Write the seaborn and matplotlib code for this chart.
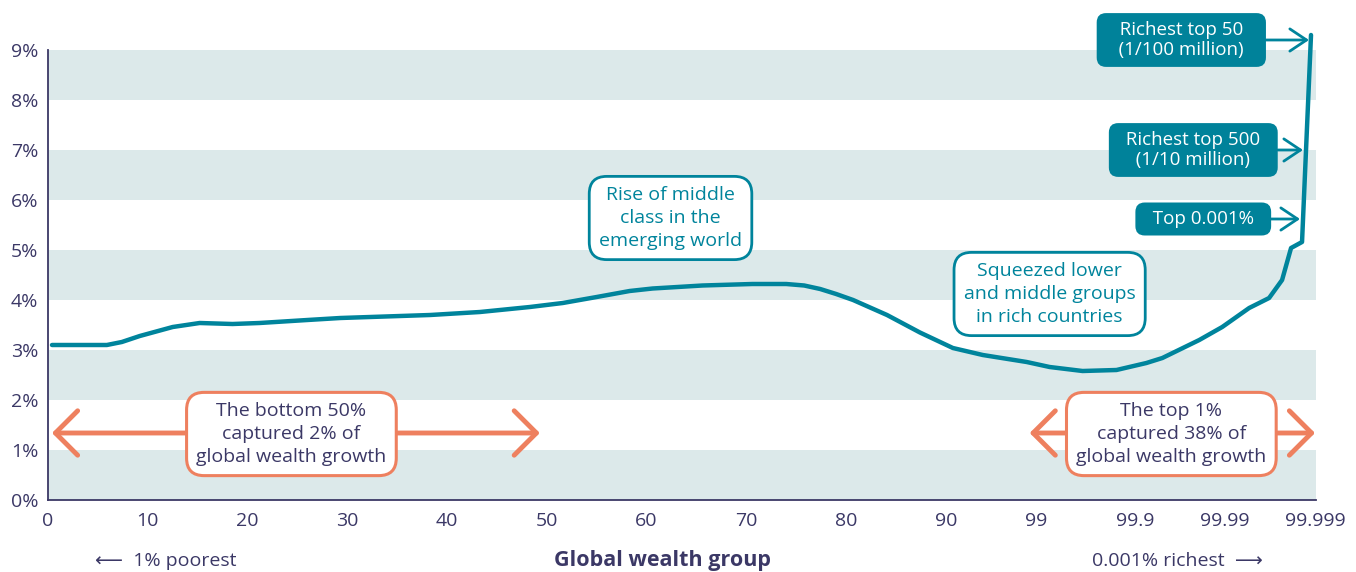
import numpy as np
import matplotlib
matplotlib.use("Agg")
import matplotlib.pyplot as plt
import seaborn as sns

# position along the x axis (0-99 percentiles, then 99.1..99.9, 99.91..99.99, 99.991..99.999)
pos = [0.4, 5.9, 7.4, 9.2, 12.5, 15.2, 18.5, 21.2, 26.0, 29.3, 38.3, 43.3, 48.3, 51.6, 55.0,
       58.3, 60.6, 65.6, 70.6, 74.0, 75.8, 77.4, 79.0, 80.7, 84.1, 87.4, 90.7, 93.7, 98.1,
       100.4, 103.7, 107.1, 110.1, 111.7, 115.4, 117.7, 120.4, 122.4, 123.7, 124.6, 125.7, 126.6]
growth = [3.10, 3.10, 3.16, 3.28, 3.46, 3.54, 3.52, 3.54, 3.60, 3.64, 3.70, 3.76, 3.86, 3.94, 4.06,
          4.18, 4.23, 4.29, 4.32, 4.32, 4.29, 4.22, 4.12, 4.00, 3.70, 3.35, 3.04, 2.90, 2.76,
          2.66, 2.58, 2.60, 2.74, 2.84, 3.20, 3.46, 3.84, 4.04, 4.40, 5.04, 5.16, 9.30]

xtick_pos = [0, 10, 20, 30, 40, 50, 60, 70, 80, 90, 99, 109, 118, 127]
xtick_labels = ["0", "10", "20", "30", "40", "50", "60", "70", "80", "90",
                "99", "99.9", "99.99", "99.999"]
ytick_vals = [0, 1, 2, 3, 4, 5, 6, 7, 8, 9]

teal = "#00849c"
navy = "#3b3866"
orange = "#ee805f"
band = "#dce9ea"

sns.set_theme(style="white")
plt.rcParams["font.family"] = ["Open Sans", "DejaVu Sans"]

fig = plt.figure(figsize=(13.56, 5.72), dpi=100)
ax = fig.add_axes([48 / 1356, 72 / 572, 1268 / 1356, 480 / 572])

for lo in [0, 2, 4, 6, 8]:
    ax.axhspan(lo, lo + 1, color=band, lw=0, zorder=0)

sns.lineplot(x=pos, y=growth, color=teal, linewidth=3.2, sort=False, ax=ax, zorder=3)

ax.set_xlim(0, 127.1)
ax.set_ylim(0, 9.6)
ax.set_xticks(xtick_pos)
ax.set_xticklabels(xtick_labels)
ax.set_yticks(ytick_vals)
ax.set_yticklabels([f"{v}%" for v in ytick_vals])
ax.tick_params(length=0, labelsize=14, labelcolor=navy)
ax.tick_params(axis="y", pad=7)
ax.tick_params(axis="x", pad=9)

for s in ["top", "right"]:
    ax.spines[s].set_visible(False)
ax.spines["left"].set_color(navy)
ax.spines["left"].set_linewidth(1.3)
ax.spines["left"].set_bounds(0, 9)
ax.spines["bottom"].set_color(navy)
ax.spines["bottom"].set_linewidth(1.3)

ax.set_xlabel("Global wealth group", fontsize=15.5, fontweight="bold", color=navy)
ax.xaxis.set_label_coords((662 - 48) / 1268, -0.105)

fig.text(95 / 1356, 11 / 572, "\u27f5  1% poorest", fontsize=14, color=navy, va="center")
fig.text(1092 / 1356, 11 / 572, "0.001% richest  \u27f6", fontsize=14, color=navy, va="center")

# teal outline boxes
ax.text(62.4, 5.64, "Rise of middle\nclass in the\nemerging world", ha="center", va="center",
        fontsize=14, color=teal, zorder=5, linespacing=1.35,
        bbox=dict(boxstyle="round,pad=0.5,rounding_size=0.9", fc="white", ec=teal, lw=2))
ax.text(100.4, 4.12, "Squeezed lower\nand middle groups\nin rich countries", ha="center", va="center",
        fontsize=14, color=teal, zorder=5, linespacing=1.35,
        bbox=dict(boxstyle="round,pad=0.5,rounding_size=0.9", fc="white", ec=teal, lw=2))

# orange double arrows with boxes
for x0, x1, xc, txt in [(0.4, 49.3, 24.4, "The bottom 50%\ncaptured 2% of\nglobal wealth growth"),
                        (98.4, 127.0, 112.6, "The top 1%\ncaptured 38% of\nglobal wealth growth")]:
    ax.annotate("", xy=(x0, 1.34), xytext=(x1, 1.34),
                arrowprops=dict(arrowstyle="<->,head_length=0.8,head_width=0.8", color=orange,
                                lw=3.5, mutation_scale=20, shrinkA=0, shrinkB=0), zorder=4)
    ax.text(xc, 1.32, txt, ha="center", va="center", fontsize=14, color=navy, zorder=5,
            linespacing=1.35,
            bbox=dict(boxstyle="round,pad=0.5,rounding_size=0.9", fc="white", ec=orange, lw=2.2))

# filled teal callouts
for tx, ty, px, py, txt in [(113.6, 9.2, 126.4, 9.2, "   Richest top 50   \n   (1/100 million)   "),
                            (114.8, 7.0, 125.8, 7.0, "  Richest top 500  \n  (1/10 million)  "),
                            (115.8, 5.62, 125.5, 5.62, "  Top 0.001%  ")]:
    ax.annotate(txt, xy=(px, py), xytext=(tx, ty), ha="center", va="center",
                fontsize=13.5, color="white", zorder=6, linespacing=1.2,
                bbox=dict(boxstyle="round,pad=0.4,rounding_size=0.5", fc="#00829a", ec="none"),
                arrowprops=dict(arrowstyle="->,head_length=0.6,head_width=0.4", color=teal,
                                lw=2, mutation_scale=20, shrinkA=0, shrinkB=0))

fig.savefig("out.png", dpi=100)
